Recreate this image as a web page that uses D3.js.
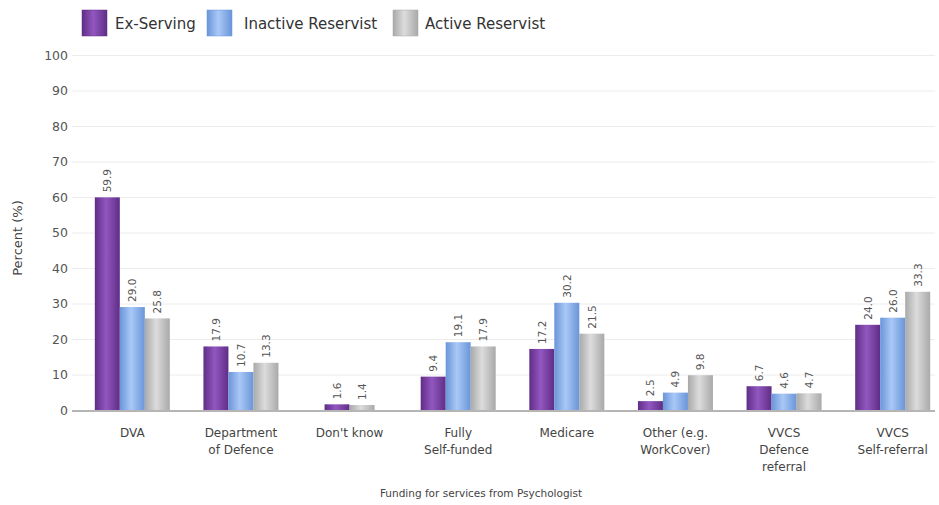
<!DOCTYPE html>
<html><head><meta charset="utf-8">
<script src="https://cdn.jsdelivr.net/npm/d3@7"></script>
<style>html,body{margin:0;padding:0;background:#fff;}svg{display:block;font-family:"DejaVu Sans",sans-serif;}</style>
</head><body>
<svg id="chart" width="939" height="505"></svg>
<script>
const categories = ["DVA","Department\nof Defence","Don't know","Fully\nSelf-funded","Medicare","Other (e.g.\nWorkCover)","VVCS\nDefence\nreferral","VVCS\nSelf-referral"];
const seriesNames = ["Ex-Serving","Inactive Reservist","Active Reservist"];
const exServing = [59.9,17.9,1.6,9.4,17.2,2.5,6.7,24.0];
const inactiveReservist = [29.0,10.7,null,19.1,30.2,4.9,4.6,26.0];
const activeReservist = [25.8,13.3,1.4,17.9,21.5,9.8,4.7,33.3];
const yTicks = [0,10,20,30,40,50,60,70,80,90,100];
const xTitle = "Funding for services from Psychologist";
const yTitle = "Percent (%)";

const seriesValues = [exServing, inactiveReservist, activeReservist];
const colors = [
  {edge:"#5f2d86", mid:"#9257c0"},
  {edge:"#6a95d8", mid:"#a9c8f7"},
  {edge:"#a9a9a9", mid:"#dcdcdc"}
];

const svg = d3.select("#chart");
const defs = svg.append("defs");
colors.forEach((c,i)=>{
  const g = defs.append("linearGradient").attr("id","g"+i).attr("x1","0").attr("x2","1").attr("y1","0").attr("y2","0");
  g.append("stop").attr("offset","0%").attr("stop-color",c.edge);
  g.append("stop").attr("offset","45%").attr("stop-color",c.mid);
  g.append("stop").attr("offset","100%").attr("stop-color",c.edge);
});

const y = d3.scaleLinear().domain([0,100]).range([410,55]);
const x = d3.scaleBand().domain(d3.range(categories.length)).range([78,947]);
const barW = 25;

// gridlines
svg.append("g").selectAll("line").data(yTicks.filter(t=>t>0)).join("line")
  .attr("x1",72).attr("x2",935).attr("y1",d=>y(d)+0.5).attr("y2",d=>y(d)+0.5)
  .attr("stroke","#ececec").attr("stroke-width",1);

// y axis labels
const yAxis = d3.axisLeft(y).tickValues(yTicks).tickSize(0).tickPadding(0);
const ya = svg.append("g").attr("transform","translate(68,0)").call(yAxis);
ya.select(".domain").remove();
ya.selectAll("text").attr("font-size",12.5).attr("fill","#555").attr("font-family","DejaVu Sans, sans-serif");

// bars
const groups = svg.append("g").selectAll("g").data(categories.map((c,i)=>i)).join("g");
groups.each(function(ci){
  const present = seriesValues.map((s,si)=>({si, v:s[ci]})).filter(d=>d.v!==null);
  const total = present.length*barW;
  const cx = x(ci)+x.bandwidth()/2;
  const start = cx - total/2;
  const g = d3.select(this);
  present.forEach((d,k)=>{
    const bx = start + k*barW;
    g.append("rect").attr("x",bx).attr("y",y(d.v)).attr("width",barW).attr("height",y(0)-y(d.v))
      .attr("fill","url(#g"+d.si+")");
    g.append("text").attr("transform",`translate(${bx+barW/2+4},${y(d.v)-5}) rotate(-90)`)
      .attr("font-size",10.5).attr("fill","#555").text(d.v.toFixed(1));
  });
});

// baseline
svg.append("line").attr("x1",72).attr("x2",935).attr("y1",y(0)+1).attr("y2",y(0)+1)
  .attr("stroke","#b5b5b5").attr("stroke-width",2);

// category labels
const xa = svg.append("g");
categories.forEach((c,i)=>{
  const t = xa.append("text").attr("x",x(i)+x.bandwidth()/2).attr("y",437).attr("text-anchor","middle")
    .attr("font-size",12).attr("fill","#444");
  c.split("\n").forEach((line,k)=>{
    t.append("tspan").attr("x",x(i)+x.bandwidth()/2).attr("dy",k===0?0:17).text(line);
  });
});

// axis titles
svg.append("text").attr("x",481).attr("y",497).attr("text-anchor","middle").attr("font-size",10.5).attr("fill","#444").text(xTitle);
svg.append("text").attr("transform","translate(22,238) rotate(-90)").attr("text-anchor","middle").attr("font-size",13).attr("fill","#444").text(yTitle);

// legend
const legendX = [82,207,393];
const legendTextX = [115,244,425];
seriesNames.forEach((n,i)=>{
  svg.append("rect").attr("x",legendX[i]).attr("y",10).attr("width",25).attr("height",26)
    .attr("fill","url(#g"+i+")").attr("stroke",colors[i].edge).attr("stroke-width",0.5);
  svg.append("text").attr("x",legendTextX[i]).attr("y",29).attr("font-size",15).attr("fill","#333").text(n);
});
</script>
</body></html>
